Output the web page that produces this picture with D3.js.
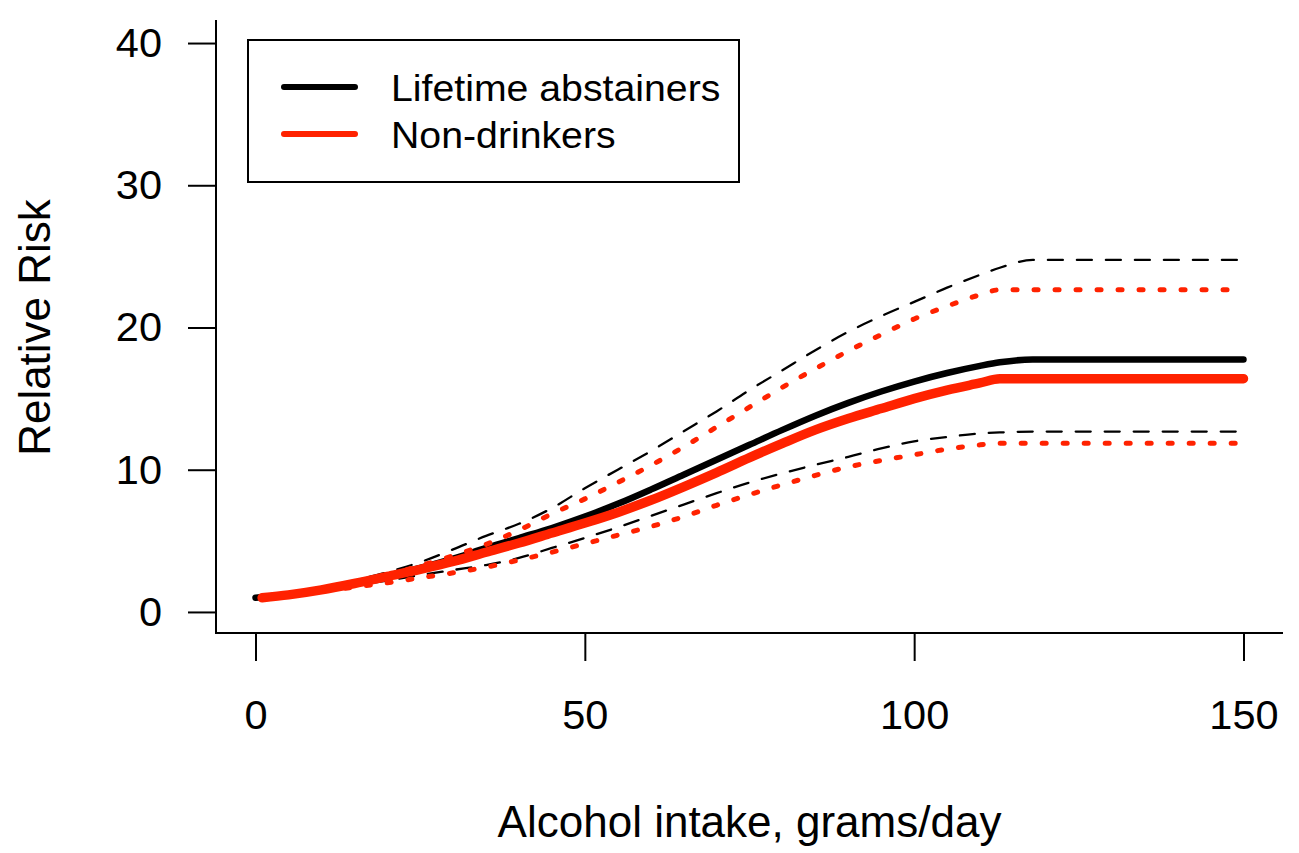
<!DOCTYPE html>
<html>
<head>
<meta charset="utf-8">
<script src="https://d3js.org/d3.v7.min.js"></script>
<style>
  body { margin: 0; background: #fff; }
  text { font-family: "Liberation Sans", Arial, sans-serif; fill: #000; }
</style>
</head>
<body>
<svg id="drawing_region" width="1299" height="853"></svg>
<script>
// alcohol intake grid (grams/day)
const intake    = [0, 5, 10, 15, 20, 25, 30, 35, 40, 45, 50, 55, 60, 65, 70, 75, 80, 85, 90, 95, 100, 105, 110, 113, 118, 150];
const intakeRed = [1, 5, 10, 15, 20, 25, 30, 35, 40, 45, 50, 55, 60, 65, 70, 75, 80, 85, 90, 95, 100, 105, 110, 113, 118, 150];

// lifetime abstainers: estimate and CI
const abst   = [1.0, 1.25, 1.6, 2.05, 2.55, 3.1, 3.75, 4.5, 5.2, 5.9, 6.7, 7.6, 8.6, 9.65, 10.7, 11.75, 12.8, 13.8, 14.7, 15.5, 16.2, 16.8, 17.3, 17.55, 17.75, 17.75];
const abstHi = [1.0, 1.25, 1.6, 2.2, 2.8, 3.5, 4.4, 5.35, 6.2, 7.3, 8.7, 10.0, 11.3, 12.7, 14.1, 15.6, 17.0, 18.4, 19.7, 20.8, 21.8, 22.8, 23.7, 24.2, 24.75, 24.75];
const abstLo = [1.0, 1.2, 1.5, 1.85, 2.2, 2.6, 2.95, 3.3, 3.8, 4.5, 5.2, 5.95, 6.75, 7.55, 8.35, 9.1, 9.75, 10.35, 10.9, 11.5, 12.0, 12.3, 12.55, 12.62, 12.68, 12.68];

// non-drinkers: estimate and CI
const non   = [1.0, 1.2, 1.55, 2.0, 2.5, 3.0, 3.55, 4.2, 4.85, 5.55, 6.25, 7.0, 7.85, 8.8, 9.8, 10.85, 11.85, 12.8, 13.6, 14.3, 15.0, 15.6, 16.1, 16.4, 16.4, 16.4];
const nonHi = [1.0, 1.2, 1.55, 2.05, 2.6, 3.25, 3.95, 4.75, 5.75, 6.9, 7.95, 9.1, 10.3, 11.6, 13.0, 14.4, 15.8, 17.1, 18.35, 19.5, 20.6, 21.5, 22.3, 22.65, 22.65, 22.65];
const nonLo = [1.0, 1.15, 1.45, 1.75, 2.05, 2.4, 2.75, 3.15, 3.65, 4.2, 4.8, 5.4, 6.0, 6.7, 7.5, 8.25, 8.95, 9.6, 10.2, 10.65, 11.05, 11.45, 11.75, 11.86, 11.86, 11.86];

const xTicks = [0, 50, 100, 150];
const yTicks = [0, 10, 20, 30, 40];
const legendLabels = ["Lifetime abstainers", "Non-drinkers"];

const red = "#ff2200";
const svg = d3.select('#drawing_region');

// plot region (R style, 4% extension)
const plotLeft = 216, plotRight = 1283, plotTop = 20, plotBottom = 633;

const xscale = d3.scaleLinear().domain([-6, 156]).range([plotLeft, plotRight]);
const yscale = d3.scaleLinear().domain([-1.48, 41.62]).range([plotBottom, plotTop]);

const line = d3.line()
    .x(d => xscale(d[0]))
    .y(d => yscale(d[1]))
    .curve(d3.curveMonotoneX);

function pts(xs, ys) { return xs.map((x, i) => [x, ys[i]]); }

const series = [
  { xs: intake, ys: abst,    color: "#000", width: 6.5, dash: null },
  { xs: intake, ys: abstHi,  color: "#000", width: 2.3, dash: "15,14" },
  { xs: intake, ys: abstLo,  color: "#000", width: 2.3, dash: "15,14" },
  { xs: intakeRed, ys: non,   color: red, width: 9.5, dash: null },
  { xs: intakeRed, ys: nonHi, color: red, width: 5, dash: "4,17" },
  { xs: intakeRed, ys: nonLo, color: red, width: 5, dash: "4,17" }
];

svg.selectAll("path.curve")
    .data(series)
    .join("path")
    .attr("class", "curve")
    .attr("d", d => line(pts(d.xs, d.ys)))
    .attr("fill", "none")
    .attr("stroke", d => d.color)
    .attr("stroke-width", d => d.width)
    .attr("stroke-linecap", "round")
    .attr("stroke-linejoin", "round")
    .attr("stroke-dasharray", d => d.dash);

// box (bty = "l")
svg.append("path")
    .attr("d", `M${plotLeft},${plotTop}V${plotBottom}H${plotRight}`)
    .attr("fill", "none")
    .attr("stroke", "#000")
    .attr("stroke-width", 2);

// axes
const xaxis = d3.axisBottom(xscale).tickValues(xTicks).tickSize(28).tickPadding(39).tickSizeOuter(0);
const yaxis = d3.axisLeft(yscale).tickValues(yTicks).tickSize(28).tickPadding(26).tickSizeOuter(0);

const xg = svg.append("g").attr("transform", `translate(0, ${plotBottom})`).call(xaxis);
const yg = svg.append("g").attr("transform", `translate(${plotLeft}, 0)`).call(yaxis);

[xg, yg].forEach(g => {
  g.select(".domain").remove();
  g.selectAll(".tick line").attr("stroke", "#000").attr("stroke-width", 2);
  g.selectAll(".tick text").attr("font-size", 41.5).attr("font-family", "Liberation Sans, Arial, sans-serif").attr("fill", "#000");
});

// axis titles
svg.append("text")
    .attr("x", (xscale(0) + xscale(150)) / 2)
    .attr("y", 837)
    .attr("text-anchor", "middle")
    .attr("font-size", 44)
    .text("Alcohol intake, grams/day");

svg.append("text")
    .attr("transform", `translate(50, ${(yscale(0) + yscale(40)) / 2}) rotate(-90)`)
    .attr("text-anchor", "middle")
    .attr("font-size", 44)
    .text("Relative Risk");

// legend
const legend = svg.append("g");
legend.append("rect")
    .attr("x", 248).attr("y", 40)
    .attr("width", 491).attr("height", 142)
    .attr("fill", "#fff")
    .attr("stroke", "#000")
    .attr("stroke-width", 2);

const legendColors = ["#000", red];
legendLabels.forEach((lab, i) => {
  const ly = 87 + i * 47;
  legend.append("line")
      .attr("x1", 284).attr("x2", 355)
      .attr("y1", ly).attr("y2", ly)
      .attr("stroke", legendColors[i])
      .attr("stroke-width", 6)
      .attr("stroke-linecap", "round");
  const t = legend.append("text")
      .attr("x", 391).attr("y", ly + 14)
      .attr("font-size", 36)
      .text(lab);
  // glyphs in the original are slightly wider than tall
  t.attr("textLength", t.node().getComputedTextLength() * 1.09)
   .attr("lengthAdjust", "spacingAndGlyphs");
});
</script>
</body>
</html>
